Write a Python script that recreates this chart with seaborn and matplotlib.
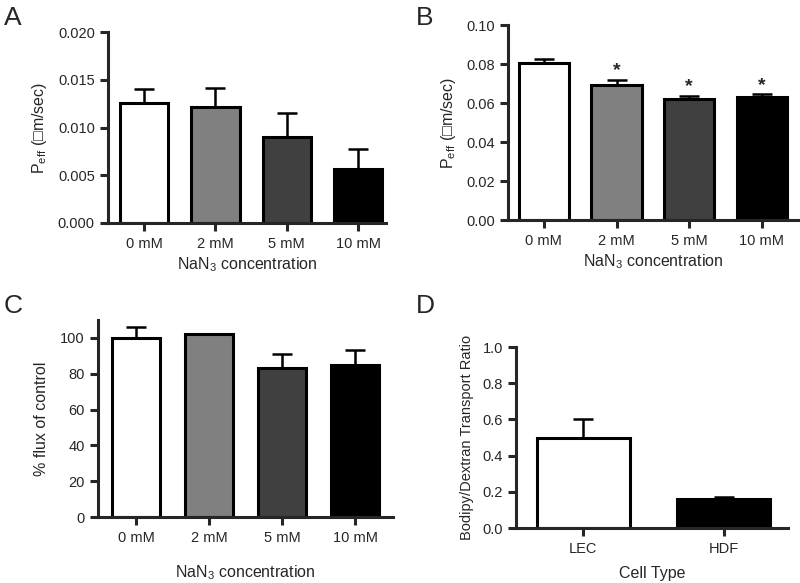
import numpy as np
import pandas as pd
import matplotlib
matplotlib.use("Agg")
import matplotlib.pyplot as plt
import seaborn as sns

# ---------------------------------------------------------
# Data
# ---------------------------------------------------------
conc_labels = ["0 mM", "2 mM", "5 mM", "10 mM"]
conc_colors = ["#ffffff", "#808080", "#404040", "#000000"]

peff_a = [0.0126, 0.0121, 0.0090, 0.0057]
peff_a_err = [0.0014, 0.0020, 0.0025, 0.0020]

peff_b = [0.0805, 0.0690, 0.0623, 0.0630]
peff_b_err = [0.0023, 0.0028, 0.0014, 0.0015]
peff_b_sig = ["", "*", "*", "*"]

flux_c = [100.0, 102.0, 83.0, 85.0]
flux_c_err = [6.0, 0.0, 8.0, 8.5]

cell_labels = ["LEC", "HDF"]
cell_colors = ["#ffffff", "#000000"]
ratio_d = [0.50, 0.16]
ratio_d_err = [0.10, 0.01]

# ---------------------------------------------------------
# Style
# ---------------------------------------------------------
sns.set_style("ticks")
plt.rcParams["font.family"] = ["Liberation Sans", "DejaVu Sans"]
plt.rcParams["mathtext.default"] = "regular"
LW = 2.2

fig = plt.figure(figsize=(8.0, 5.83), dpi=100)


def bar_panel(rect, labels, colors, values, errs, xlim, ylim, yticks, fmt,
              width=0.68, xpad=4.0):
    ax = fig.add_axes(rect)
    df = pd.DataFrame({"cat": labels, "val": values})
    sns.barplot(data=df, x="cat", y="val", hue="cat", palette=colors,
                order=labels, hue_order=labels, legend=False, width=width,
                edgecolor="black", linewidth=LW, errorbar=None, ax=ax)
    x = np.arange(len(labels))
    ax.errorbar(x, values, yerr=[np.zeros(len(values)), errs], fmt="none",
                ecolor="black", elinewidth=1.8, capsize=7.5, capthick=1.8,
                zorder=1)
    ax.set_xlim(*xlim)
    ax.set_ylim(*ylim)
    ax.set_yticks(yticks)
    ax.set_yticklabels([fmt.format(t) for t in yticks])
    for s in ["top", "right"]:
        ax.spines[s].set_visible(False)
    for s in ["left", "bottom"]:
        ax.spines[s].set_linewidth(LW)
    ax.tick_params(axis="both", width=LW, length=6, labelsize=10.5,
                   direction="out")
    ax.tick_params(axis="x", pad=xpad)
    ax.set_xlabel("")
    ax.set_ylabel("")
    return ax


# Panel A
ax_a = bar_panel([0.135, 0.6175, 0.3475, 0.3276], conc_labels, conc_colors,
                 peff_a, peff_a_err, (-0.505, 3.39), (0, 0.020),
                 [0, 0.005, 0.010, 0.015, 0.020], "{:.3f}")
ax_a.set_ylabel("P$_{eff}$ (\u25a1m/sec)", fontsize=11.5, labelpad=6)
ax_a.set_xlabel("NaN$_3$ concentration", fontsize=11.5, labelpad=3)

# Panel B
ax_b = bar_panel([0.635, 0.6226, 0.3625, 0.3345], conc_labels, conc_colors,
                 peff_b, peff_b_err, (-0.495, 3.5), (0, 0.10),
                 [0, 0.02, 0.04, 0.06, 0.08, 0.10], "{:.2f}", width=0.69)
ax_b.set_ylabel("P$_{eff}$ (\u25a1m/sec)", fontsize=11.5, labelpad=6)
ax_b.set_xlabel("NaN$_3$ concentration", fontsize=11.5, labelpad=3)
for i, s in enumerate(peff_b_sig):
    if s:
        ax_b.text(i, peff_b[i] + peff_b_err[i] + 0.0003, s, ha="center",
                  va="bottom", fontsize=14, fontweight="bold")

# Panel C
ax_c = bar_panel([0.1225, 0.1132, 0.369, 0.338], conc_labels, conc_colors,
                 flux_c, flux_c_err, (-0.52, 3.52), (0, 110),
                 [0, 20, 40, 60, 80, 100], "{:.0f}", width=0.66)
ax_c.set_ylabel("% flux of control", fontsize=11.5, labelpad=8)
ax_c.set_xlabel("NaN$_3$ concentration", fontsize=11.5, labelpad=13)

# Panel D
ax_d = bar_panel([0.645, 0.0943, 0.34, 0.3105], cell_labels, cell_colors,
                 ratio_d, ratio_d_err, (-0.48, 1.46), (0, 1.0),
                 [0, 0.2, 0.4, 0.6, 0.8, 1.0], "{:.1f}", width=0.66)
ax_d.set_ylabel("Bodipy/Dextran Transport Ratio", fontsize=10.5, labelpad=6)
ax_d.set_xlabel("Cell Type", fontsize=11.5, labelpad=7)

# Panel letters
for lbl, (px, py) in zip("ABCD", [(4, 6), (416, 6), (4, 294), (416, 294)]):
    fig.text(px / 800, 1 - py / 583, lbl, fontsize=19, ha="left", va="top")

fig.savefig("out.png", dpi=100)
plt.close(fig)
